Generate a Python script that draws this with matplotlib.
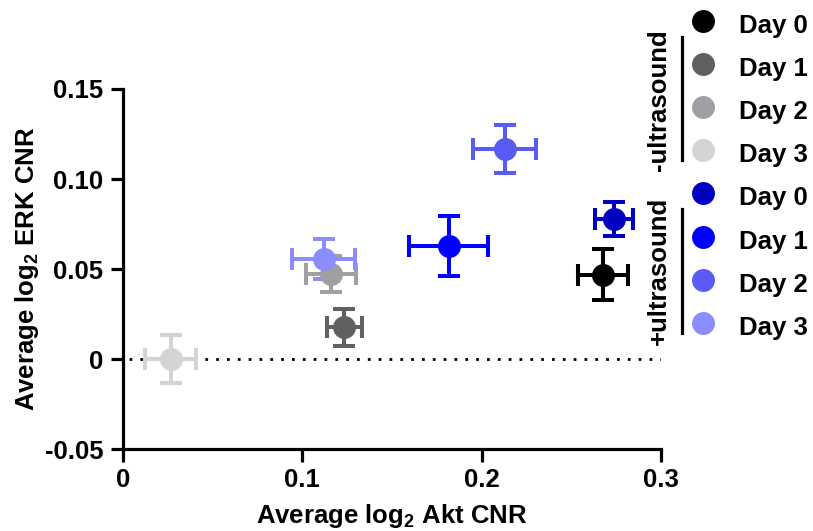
import matplotlib
matplotlib.use("Agg")
import matplotlib.pyplot as plt
import numpy as np

plt.rcParams['font.family'] = ['Liberation Sans', 'DejaVu Sans']
plt.rcParams['font.weight'] = 'bold'
plt.rcParams['mathtext.fontset'] = 'custom'
plt.rcParams['mathtext.rm'] = 'Liberation Sans:bold'
plt.rcParams['mathtext.bf'] = 'Liberation Sans:bold'

# --- data: -ultrasound then +ultrasound, Day 0..3 ---
labels = ["Day 0", "Day 1", "Day 2", "Day 3"]
colors_minus = ["#000000", "#606060", "#a0a0a4", "#d4d4d4"]
colors_plus = ["#0000c0", "#0000ff", "#5a5af5", "#8c8cff"]

akt_minus = [0.2677, 0.1233, 0.1161, 0.0266]
akt_minus_err = [0.0141, 0.0098, 0.0140, 0.0141]
erk_minus = [0.0469, 0.0176, 0.0472, 0.0]
erk_minus_err = [0.0140, 0.0102, 0.0100, 0.0134]

akt_plus = [0.2736, 0.1816, 0.2128, 0.1118]
akt_plus_err = [0.0105, 0.0220, 0.0177, 0.0178]
erk_plus = [0.0778, 0.0630, 0.1167, 0.0556]
erk_plus_err = [0.0096, 0.0167, 0.0133, 0.0110]

fig = plt.figure(figsize=(8.13, 5.31), dpi=100)
ax = fig.add_axes([0.1513, 0.1544, 0.6618, 0.678])

# zero line
ax.axhline(0, xmin=0.012, xmax=1.0, color="black", linestyle=(0, (1, 2.9)), linewidth=2.0, zorder=1)

groups = [
    (akt_minus, akt_minus_err, erk_minus, erk_minus_err, colors_minus),
    (akt_plus, akt_plus_err, erk_plus, erk_plus_err, colors_plus),
]
for xs, xe, ys, ye, cols in groups:
    for x, dx, y, dy, c in zip(xs, xe, ys, ye, cols):
        ax.errorbar(x, y, xerr=dx, yerr=dy, fmt="o", color=c, ecolor=c,
                    markersize=15.5, elinewidth=2.9, capsize=8, capthick=2.9, zorder=3)

ax.set_xlim(0, 0.3)
ax.set_ylim(-0.05, 0.15)
ax.set_xticks([0, 0.1, 0.2, 0.3])
ax.set_xticklabels(["0", "0.1", "0.2", "0.3"])
ax.set_yticks([-0.05, 0, 0.05, 0.10, 0.15])
ax.set_yticklabels(["-0.05", "0", "0.05", "0.10", "0.15"])
for s in ["top", "right"]:
    ax.spines[s].set_visible(False)
for s in ["left", "bottom"]:
    ax.spines[s].set_linewidth(2.3)
ax.tick_params(width=2.3, length=9, labelsize=18.5, pad=5)
for lab in ax.get_xticklabels() + ax.get_yticklabels():
    lab.set_fontweight("bold")

ax.set_xlabel("Average log$_\\mathbf{2}$ Akt CNR", fontsize=18.5, fontweight="bold", labelpad=7)
ax.set_ylabel("Average log$_\\mathbf{2}$ ERK CNR", fontsize=18.5, fontweight="bold", labelpad=3)

# --- manual legend ---
W, H = 813.0, 531.0
marker_x = 702.7 / W
text_x = 739 / W
leg_y = [20.7, 64, 106.7, 150, 192.7, 236.7, 280, 322.7]
for yy, c, lab in zip(leg_y, colors_minus + colors_plus, labels + labels):
    fig.lines.append(plt.Line2D([marker_x], [1 - yy / H], marker="o", markersize=15.5,
                                color=c, linestyle="none", transform=fig.transFigure))
    fig.text(text_x, 1 - (yy + 5) / H, lab, fontsize=18.5, fontweight="bold",
             va="center", ha="left")

line_x = 682 / W
for (y0, y1), name, cy in [((36.7, 160), "-ultrasound", 100), ((209, 333), "+ultrasound", 271)]:
    fig.lines.append(plt.Line2D([line_x, line_x], [1 - y0 / H, 1 - y1 / H], color="black",
                                linewidth=2.3, transform=fig.transFigure))
    fig.text(659 / W, 1 - cy / H, name, fontsize=18.5, fontweight="bold", rotation=90,
             va="center", ha="center")

fig.savefig("out.png", dpi=100)
